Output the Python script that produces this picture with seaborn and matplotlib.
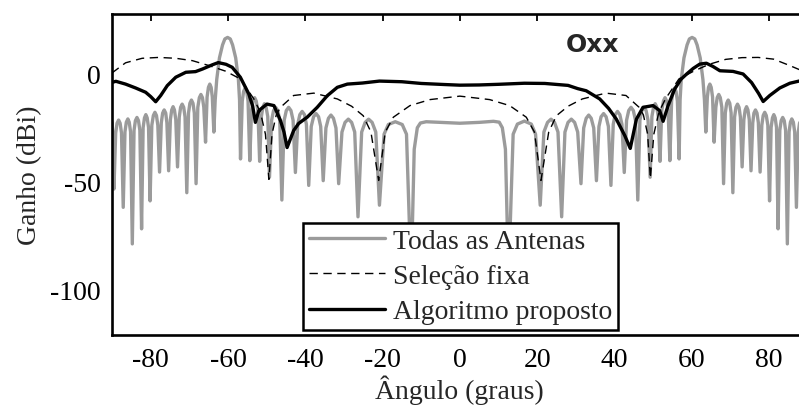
import matplotlib
matplotlib.use("Agg")
import matplotlib.pyplot as plt
import seaborn as sns

# Radiation pattern, all antennas active (angle in degrees, gain in dBi)
todas_ang = [
    -90.0, -89.8, -89.5,
    -89.05, -88.7, -88.3, -87.9, -87.55, -87.1,
    -86.65, -86.3, -85.9, -85.55, -85.2, -84.75,
    -84.3, -83.95, -83.55, -83.15, -82.8, -82.35,
    -81.95, -81.6, -81.25, -80.9, -80.55, -80.15,
    -79.7, -79.3, -78.9, -78.5, -78.15, -77.7,
    -77.25, -76.9, -76.5, -76.1, -75.8, -75.35,
    -74.9, -74.55, -74.2, -73.85, -73.5, -73.05,
    -72.6, -72.25, -71.85, -71.45, -71.1, -70.65,
    -70.2, -69.85, -69.45, -69.05, -68.7, -68.25,
    -67.8, -67.4, -67.0, -66.6, -66.25, -65.8,
    -65.4, -65.05, -64.7, -64.35, -64.05, -63.65,
    -63.3, -62.9, -62.2, -61.4, -60.8, -60.1, -59.4, -58.8, -58.0, -57.3, -57.0, -56.75,
    -56.3, -55.95, -55.55, -55.15, -54.8, -54.35,
    -53.9, -53.5, -53.1, -52.7, -52.25, -51.8,
    -51.35, -50.95, -50.55, -50.15, -49.7, -49.25,
    -48.7, -48.2, -47.65, -47.1, -46.6, -46.05,
    -45.45, -44.9, -44.3, -43.7, -43.15, -42.55,
    -41.95, -41.4, -40.8, -40.2, -39.7, -39.1,
    -38.45, -37.85, -37.2, -36.55, -36.0, -35.35,
    -34.65, -34.0, -33.35, -32.7, -32.05, -31.35,
    -30.5, -29.7, -28.85, -28.0, -27.2, -26.35,
    -25.4, -24.5, -23.6, -22.7, -21.75, -20.8,
    -19.6, -18.5, -16.7, -14.9, -13.8, -12.6,
    -11.8, -11.0, -10.2, -8.7, -5.0, 0.0, 5.0, 8.7, 10.2, 11.0, 11.8,
    12.6, 13.8, 14.9, 16.7, 18.5, 19.6,
    20.8, 21.75, 22.7, 23.6, 24.5, 25.4,
    26.35, 27.2, 28.0, 28.85, 29.7, 30.5,
    31.35, 32.05, 32.7, 33.35, 34.0, 34.65,
    35.35, 36.0, 36.55, 37.2, 37.85, 38.45,
    39.1, 39.7, 40.2, 40.8, 41.4, 41.95,
    42.55, 43.15, 43.7, 44.3, 44.9, 45.45,
    46.05, 46.6, 47.1, 47.65, 48.2, 48.7,
    49.25, 49.7, 50.15, 50.55, 50.95, 51.35,
    51.8, 52.25, 52.7, 53.1, 53.5, 53.9,
    54.35, 54.8, 55.15, 55.55, 55.95, 56.3,
    56.75, 57.0, 57.3, 58.0, 58.8, 59.4, 60.1, 60.8, 61.4, 62.2, 62.9, 63.3,
    63.65, 64.05, 64.35, 64.7, 65.05, 65.4,
    65.8, 66.25, 66.6, 67.0, 67.4, 67.8,
    68.25, 68.7, 69.05, 69.45, 69.85, 70.2,
    70.65, 71.1, 71.45, 71.85, 72.25, 72.6,
    73.05, 73.5, 73.85, 74.2, 74.55, 74.9,
    75.35, 75.8, 76.1, 76.5, 76.9, 77.25,
    77.7, 78.15, 78.5, 78.9, 79.3, 79.7,
    80.15, 80.55, 80.9, 81.25, 81.6, 81.95,
    82.35, 82.8, 83.15, 83.55, 83.95, 84.3,
    84.75, 85.2, 85.55, 85.9, 86.3, 86.65,
    87.1, 87.55, 87.9, 88.3, 88.7, 89.05,
    89.5, 89.8, 90.0,
]
todas_db = [
    -22.5, -28.0, -53.5,
    -27.4, -22.9, -21.4, -22.9, -27.4, -62.0,
    -26.9, -22.4, -20.9, -22.4, -26.9, -79.0,
    -26.2, -21.7, -20.2, -21.7, -26.2, -72.0,
    -24.9, -20.4, -18.9, -20.4, -24.9, -59.0,
    -23.8, -19.3, -17.8, -19.3, -23.8, -45.6,
    -22.7, -18.2, -16.7, -18.2, -22.7, -45.0,
    -21.2, -16.7, -15.2, -16.7, -21.2, -43.2,
    -20.0, -15.5, -14.0, -15.5, -20.0, -55.2,
    -18.1, -13.6, -12.1, -13.6, -18.1, -51.0,
    -15.5, -11.0, -9.5, -11.0, -15.5, -31.7,
    -10.7, -6.2, -4.7, -6.2, -10.7, -27.0,
    -12.0, -2.5, 7.5, 13.5, 16.3, 17.0, 16.3, 13.5, 7.5, -2.5, -12.0, -39.5,
    -12.6, -8.1, -6.6, -8.1, -12.6, -40.3,
    -17.0, -12.5, -11.0, -12.5, -17.0, -40.6,
    -19.8, -15.3, -13.8, -15.3, -19.8, -48.0,
    -21.5, -17.0, -15.5, -17.0, -21.5, -58.6,
    -21.5, -17.0, -15.5, -17.0, -21.5, -45.8,
    -23.4, -18.9, -17.4, -18.9, -23.4, -51.8,
    -24.4, -19.9, -18.4, -19.9, -24.4, -49.6,
    -25.1, -20.6, -19.1, -20.6, -25.1, -51.0,
    -27.0, -22.5, -21.0, -22.5, -27.0, -66.4,
    -27.0, -22.5, -21.0, -22.5, -27.0, -61.0,
    -28.0, -23.5, -22.2, -23.5, -28.0, -95.0,
    -35.0, -25.0, -22.8, -22.2, -22.5, -22.9, -22.5, -22.0, -22.4, -25.0, -35.0,
    -95.0, -28.0, -23.3, -21.9, -23.3, -28.0,
    -61.0, -27.0, -22.5, -21.0, -22.5, -27.0,
    -66.4, -27.0, -22.5, -21.0, -22.5, -27.0,
    -51.0, -25.1, -20.6, -19.1, -20.6, -25.1,
    -49.6, -24.4, -19.9, -18.4, -19.9, -24.4,
    -51.8, -23.4, -18.9, -17.4, -18.9, -23.4,
    -45.8, -21.5, -17.0, -15.5, -17.0, -21.5,
    -58.6, -21.5, -17.0, -15.5, -17.0, -21.5,
    -48.0, -19.8, -15.3, -13.8, -15.3, -19.8,
    -40.6, -17.0, -12.5, -11.0, -12.5, -17.0,
    -40.3, -12.6, -8.1, -6.6, -8.1, -12.6,
    -39.5, -12.0, -2.5, 7.5, 13.5, 16.3, 17.0, 16.3, 13.5, 7.5, -2.5, -12.0,
    -27.0, -10.7, -6.2, -4.7, -6.2, -10.7,
    -31.7, -15.5, -11.0, -9.5, -11.0, -15.5,
    -51.0, -18.1, -13.6, -12.1, -13.6, -18.1,
    -55.2, -20.0, -15.5, -14.0, -15.5, -20.0,
    -43.2, -21.2, -16.7, -15.2, -16.7, -21.2,
    -45.0, -22.7, -18.2, -16.7, -18.2, -22.7,
    -45.6, -23.8, -19.3, -17.8, -19.3, -23.8,
    -59.0, -24.9, -20.4, -18.9, -20.4, -24.9,
    -72.0, -26.2, -21.7, -20.2, -21.7, -26.2,
    -79.0, -26.9, -22.4, -20.9, -22.4, -26.9,
    -62.0, -27.4, -22.9, -21.4, -22.9, -27.4,
    -53.5, -28.0, -22.5,
]

# Fixed antenna selection
fixa_ang = [
    -90.0, -86.5, -82.2, -77.9, -73.5, -69.2, -64.9, -60.6, -56.8, -53.3,
    -51.6, -50.3, -49.4, -48.6, -47.5, -46.4, -43.0, -37.8, -31.7, -28.0,
    -25.0, -23.0, -21.0, -19.3, -17.2, -12.9, -7.7, 0.0, 7.7, 12.9,
    17.2, 19.3, 21.0, 23.0, 25.0, 28.0, 31.7, 37.8, 43.0, 46.4,
    47.5, 48.6, 49.3, 50.2, 51.5, 53.2, 56.7, 60.5, 64.5, 68.8,
    73.0, 77.2, 81.2, 85.4, 87.5, 90.0,
]
fixa_db = [
    0.5, 5.2, 7.3, 7.7, 7.3, 6.2, 3.9, 1.3, -2.3, -11.6,
    -17.8, -28.0, -49.0, -28.0, -19.0, -15.5, -10.0, -8.9, -11.6, -15.0,
    -19.4, -27.0, -49.5, -27.0, -20.1, -14.7, -11.9, -10.3, -11.9, -14.7,
    -20.1, -27.0, -49.5, -27.0, -19.4, -15.0, -11.6, -8.9, -10.0, -15.5,
    -19.0, -28.0, -48.5, -28.0, -17.8, -11.6, -2.3, 1.3, 4.5, 6.8,
    7.6, 7.7, 6.9, 3.9, 2.3, 0.5,
]

# Proposed selection algorithm
alg_ang = [
    -90.0, -89.0, -86.5, -83.9, -81.3, -80.0, -78.7, -77.4, -75.7, -73.5,
    -70.9, -68.4, -66.6, -64.0, -62.5, -60.5, -58.9, -56.8, -54.6, -53.6,
    -52.9, -52.0, -49.9, -48.1, -46.4, -45.5, -44.7, -43.0, -41.7, -39.5,
    -36.9, -34.3, -31.7, -29.1, -25.2, -20.8, -15.0, -10.0, -4.0, 0.0,
    5.0, 10.0, 16.7, 22.0, 25.3, 28.0, 30.5, 32.7, 36.2, 38.5,
    40.5, 42.7, 44.1, 45.7, 47.4, 50.0, 51.7, 52.6, 53.9, 55.6,
    57.2, 58.7, 60.4, 62.1, 63.8, 65.5, 67.3, 70.7, 73.3, 75.5,
    77.3, 78.5, 80.2, 82.8, 85.4, 88.0, 90.0,
]
alg_db = [
    -3.9, -3.4, -4.7, -6.5, -8.5, -10.5, -12.9, -10.0, -5.4, -1.5,
    0.8, 1.1, 2.3, 4.3, 5.3, 4.5, 3.1, -1.5, -9.3, -15.0,
    -22.5, -17.0, -14.0, -14.7, -21.7, -27.0, -34.2, -26.3, -23.0, -20.1,
    -15.5, -10.1, -6.2, -4.7, -4.2, -3.3, -3.6, -4.4, -4.9, -5.2,
    -5.1, -4.8, -4.3, -4.4, -4.9, -5.3, -6.8, -7.8, -11.6, -16.0,
    -21.0, -28.7, -34.6, -21.0, -15.5, -14.7, -17.0, -22.0, -14.7, -7.0,
    -2.5, 0.0, 2.6, 4.6, 5.0, 3.5, 1.5, 1.2, 0.0, -4.0,
    -9.0, -12.8, -10.0, -6.5, -4.3, -3.2, -3.5,
]

x_ticks = [-80, -60, -40, -20, 0, 20, 40, 60, 80]
y_ticks = [-100, -50, 0]
labels = ["Todas as Antenas", "Seleção fixa", "Algoritmo proposto"]

sns.set_style("white")
plt.rcParams["font.family"] = ["Liberation Serif", "DejaVu Serif"]
plt.rcParams["axes.unicode_minus"] = False
plt.rcParams["font.size"] = 20

fig = plt.figure(figsize=(7.99, 4.14), dpi=100)
ax = fig.add_axes([0.1402, 0.1872, 0.8706, 0.7766])

sns.lineplot(x=todas_ang, y=todas_db, ax=ax, color="#9b9b9b", linewidth=2.4,
             estimator=None, sort=False, label=labels[0])
sns.lineplot(x=fixa_ang, y=fixa_db, ax=ax, color="black", linewidth=1.0,
             estimator=None, sort=False, label=labels[1])
sns.lineplot(x=alg_ang, y=alg_db, ax=ax, color="black", linewidth=2.4,
             estimator=None, sort=False, label=labels[2])
for ln in ax.lines:
    ln.set_solid_joinstyle("round")
ax.lines[1].set_dashes((6.0, 4.0))

ax.set_xlim(-90, 90)
ax.set_ylim(-121.6, 27.9)
ax.set_xticks(x_ticks)
ax.set_yticks(y_ticks)
ax.tick_params(direction="in", length=5, width=1.3, top=True, right=True,
               labelsize=20, pad=8, colors="black")
for sp in ax.spines.values():
    sp.set_linewidth(1.9)
    sp.set_color("black")
ax.set_xlabel("Ângulo (graus)", fontsize=20, labelpad=2)
ax.set_ylabel("Ganho (dBi)", fontsize=20, labelpad=6)

ax.text(34.4, 14.0, "Oxx", family="DejaVu Sans", fontweight="bold",
        fontsize=18, ha="center", va="center")

leg = ax.legend(loc="lower left", bbox_to_anchor=(0.2746, 0.017),
                borderaxespad=0, fontsize=20, handlelength=2.75,
                handletextpad=0.3, labelspacing=0.36, borderpad=0.2,
                fancybox=False, framealpha=1, edgecolor="black")
leg.get_frame().set_linewidth(1.8)

fig.savefig("out.png", dpi=100)
